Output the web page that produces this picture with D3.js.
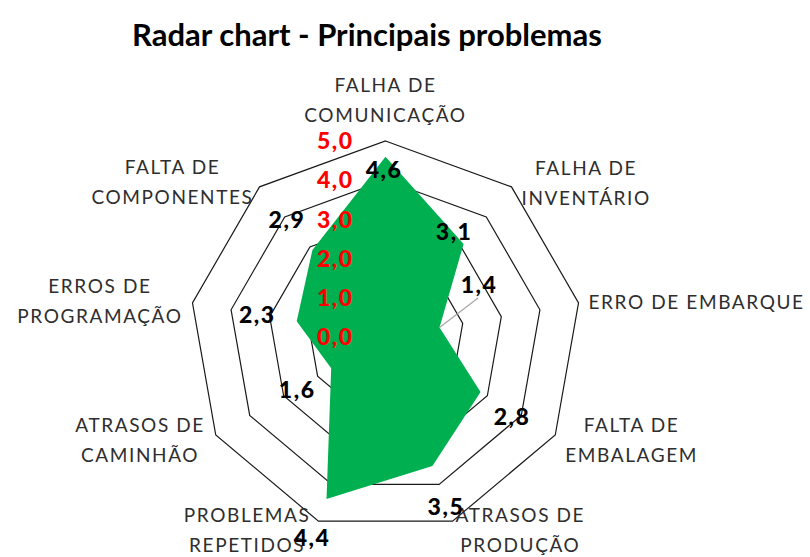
<!DOCTYPE html>
<html>
<head>
<meta charset="utf-8">
<script src="https://cdn.jsdelivr.net/npm/d3@7"></script>
<style>
  body { margin: 0; background: #ffffff; }
  svg { display: block; }
  .title { font-family: Lato, "Open Sans", sans-serif; font-weight: 700; font-size: 31px; fill: #000; }
  .cat { font-family: Lato, "Open Sans", sans-serif; font-size: 19px; fill: #2e2e2e; letter-spacing: 1.6px; }
  .tick { font-family: Lato, "Open Sans", sans-serif; font-weight: 900; font-size: 23px; fill: #ff0000; letter-spacing: 1.5px; }
  .val { font-family: Lato, "Open Sans", sans-serif; font-weight: 900; font-size: 23px; fill: #000; letter-spacing: 1.5px; }
</style>
</head>
<body>
<svg id="chart" width="810" height="557"></svg>
<script>
// Categories, clockwise from the top
const categories = [
  "FALHA DE\nCOMUNICAÇÃO",
  "FALHA DE\nINVENTÁRIO",
  "ERRO DE EMBARQUE",
  "FALTA DE\nEMBALAGEM",
  "ATRASOS DE\nPRODUÇÃO",
  "PROBLEMAS\nREPETIDOS",
  "ATRASOS DE\nCAMINHÃO",
  "ERROS DE\nPROGRAMAÇÃO",
  "FALTA DE\nCOMPONENTES"
];
const values = [4.6, 3.1, 1.4, 2.8, 3.5, 4.4, 1.6, 2.3, 2.9];
const ticks = [0, 1, 2, 3, 4, 5];
const title = "Radar chart - Principais problemas";

const cx = 385.5, cy = 337, R = 196;
const svg = d3.select("#chart");

const r = d3.scaleLinear().domain([0, 5]).range([0, R]);
const angle = d3.scaleLinear().domain([0, categories.length]).range([0, 2 * Math.PI]);
const polar = (i, v) => [cx + r(v) * Math.sin(angle(i)), cy - r(v) * Math.cos(angle(i))];

// Portuguese number style: 4,6
const fmt = d3.formatLocale({ decimal: ",", thousands: ".", grouping: [3], currency: ["R$", ""] }).format(".1f");

// Title
svg.append("text").attr("class", "title")
  .attr("x", 367).attr("y", 46).attr("text-anchor", "middle")
  .text(title);

const plot = svg.append("g").attr("transform", `translate(${cx},${cy})`);

// Grid rings (one polygon per tick above zero)
const ring = d3.lineRadial()
  .angle((d, i) => angle(i))
  .radius(d => r(d))
  .curve(d3.curveLinearClosed);

plot.selectAll("path.ring")
  .data(ticks.filter(t => t > 0))
  .join("path")
  .attr("class", "ring")
  .attr("d", t => ring(categories.map(() => t)))
  .attr("fill", "none")
  .attr("stroke", "#1a1a1a")
  .attr("stroke-width", 1.2);

// Filled series area
plot.append("path")
  .attr("d", ring(values))
  .attr("fill", "#00b050")
  .attr("stroke", "none");

// Category labels around the outer ring
const catGap = [0, 10, 10, 10, 3, 8, 11, 10, 6];
const catDy = [-41, -3.5, -1, 5, 9, 9, 4.5, -1.5, -4.5];
categories.forEach((c, i) => {
  const lines = c.split("\n");
  const [vx, vy] = polar(i, 5);
  const s = Math.sin(angle(i));
  const side = Math.abs(s) < 0.1 ? 0 : Math.sign(s);
  const t = svg.append("text").attr("class", "cat").attr("text-anchor", "middle");
  const spans = lines.map(l => t.append("tspan").text(l));
  const w = d3.max(spans, sp => sp.node().getComputedTextLength());
  const x = vx + side * (catGap[i] + w / 2);
  const capMid = vy + catDy[i];
  spans.forEach((sp, j) => {
    sp.attr("x", x).attr("y", capMid + 7 - (lines.length - 1) * 15 + j * 30);
  });
});

// Data labels with their offsets from the points
const valOffset = [[-1.5, 13], [-9.5, -12], [39.5, -42.5], [31.5, 25], [13.5, 41],
                   [-14.5, 39], [-34, 21.5], [-39.5, -6.5], [-25.5, -30]];

// Leader line for the label pushed away from its point
const [lx, ly] = polar(2, values[2]);
svg.append("line")
  .attr("x1", lx).attr("y1", ly)
  .attr("x2", lx + valOffset[2][0] - 1).attr("y2", ly + valOffset[2][1] + 13)
  .attr("stroke", "#a6a6a6").attr("stroke-width", 1.2);

// Value axis tick labels
svg.selectAll("text.tick")
  .data(ticks)
  .join("text")
  .attr("class", "tick")
  .attr("x", cx - 32)
  .attr("y", d => cy - r(d))
  .attr("dy", "0.36em")
  .attr("text-anchor", "end")
  .text(d => fmt(d));

svg.selectAll("text.val")
  .data(values)
  .join("text")
  .attr("class", "val")
  .attr("x", (d, i) => polar(i, d)[0] + valOffset[i][0])
  .attr("y", (d, i) => polar(i, d)[1] + valOffset[i][1])
  .attr("dy", "0.36em")
  .attr("text-anchor", "middle")
  .text(d => fmt(d));
</script>
</body>
</html>
